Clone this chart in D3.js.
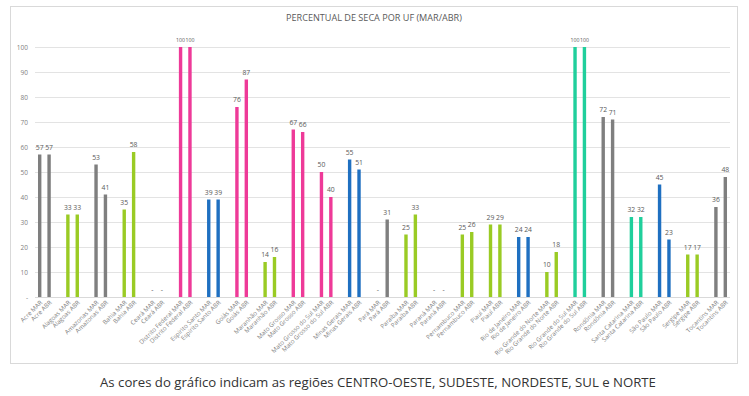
<!DOCTYPE html>
<html><head><meta charset="utf-8">
<script src="https://cdn.jsdelivr.net/npm/d3@7"></script>
<style>
body{margin:0;background:#fff;}
svg{display:block;}
</style></head>
<body>
<svg id="chart" width="749" height="396"></svg>
<script>
const states = ["Acre","Alagoas","Amazonas","Bahia","Ceará","Distrito Federal","Espirito Santo","Goiás","Maranhão","Mato Grosso","Mato Grosso do Sul","Minas Gerais","Pará","Paraíba","Paraná","Pernambuco","Piauí","Rio de Janeiro","Rio Grande do Norte","Rio Grande do Sul","Rondônia","Santa Catarina","São Paulo","Sergipe","Tocantins"];
const marValues = [57,33,53,35,0,100,39,76,14,67,50,55,0,25,0,25,29,24,10,100,72,32,45,17,36];
const abrValues = [57,33,41,58,0,100,39,87,16,66,40,51,31,33,0,26,29,24,18,100,71,32,23,17,48];
const regions = ["NORTE","NORDESTE","NORTE","NORDESTE","NORDESTE","CENTRO-OESTE","SUDESTE","CENTRO-OESTE","NORDESTE","CENTRO-OESTE","CENTRO-OESTE","SUDESTE","NORTE","NORDESTE","SUL","NORDESTE","NORDESTE","SUDESTE","NORDESTE","SUL","NORTE","SUL","SUDESTE","NORDESTE","NORTE"];
const regionNames = ["CENTRO-OESTE","SUDESTE","NORDESTE","SUL","NORTE"];
const regionColors = ["#ee3a98","#1f70c1","#9acb24","#20cf9c","#7f7f7f"];
const yTicks = [0,10,20,30,40,50,60,70,80,90,100];
const titleText = "PERCENTUAL DE SECA POR UF (MAR/ABR)";
const captionText = "As cores do gráfico indicam as regiões CENTRO-OESTE, SUDESTE, NORDESTE, SUL e NORTE";

const svg = d3.select("#chart");
const color = d3.scaleOrdinal().domain(regionNames).range(regionColors);

// build slots: MAR, ABR, gap per state (last gap omitted)
const slots = [];
states.forEach((s,i)=>{
  slots.push({key:s+"|MAR", label:s+" MAR", value:marValues[i], region:regions[i], bar:true});
  slots.push({key:s+"|ABR", label:s+" ABR", value:abrValues[i], region:regions[i], bar:true});
  if(i<states.length-1) slots.push({key:s+"|gap", label:"", bar:false});
});

const x = d3.scaleBand().domain(slots.map(d=>d.key)).range([35,730]).padding(0);
const y = d3.scaleLinear().domain([0,100]).range([297,47]);

// frame
svg.append("rect").attr("x",10.5).attr("y",6.5).attr("width",727).attr("height",357)
  .attr("fill","#fff").attr("stroke","#d9d9d9");

// gridlines
svg.append("g").selectAll("line").data(yTicks.filter(t=>t>0)).join("line")
  .attr("x1",35).attr("x2",730).attr("y1",d=>Math.round(y(d))+0.5).attr("y2",d=>Math.round(y(d))+0.5)
  .attr("stroke","#e3e3e3").attr("stroke-width",1);
svg.append("line").attr("x1",35).attr("x2",730).attr("y1",297.5).attr("y2",297.5)
  .attr("stroke","#d9d9d9");

// y axis labels
const yAxis = d3.axisLeft(y).tickValues(yTicks).tickSize(0).tickPadding(0)
  .tickFormat(d=>d===0?"-":d);
const gy = svg.append("g").attr("transform","translate(28,0)").call(yAxis);
gy.select(".domain").remove();
gy.selectAll("text").attr("font-family","'Open Sans',sans-serif").attr("font-size",6.5).attr("fill","#7f7f7f");

// title
svg.append("text").attr("x",374).attr("y",21).attr("text-anchor","middle")
  .attr("font-family","'Open Sans',sans-serif").attr("font-size",9.1).attr("fill","#595959")
  .text(titleText);

const barSlots = slots.filter(d=>d.bar);
const bw = 3.4;
// bars
svg.append("g").selectAll("rect").data(barSlots.filter(d=>d.value>0)).join("rect")
  .attr("x",d=>x(d.key)+x.bandwidth()/2-bw/2).attr("width",bw)
  .attr("y",d=>y(d.value)).attr("height",d=>y(0)-y(d.value))
  .attr("fill",d=>color(d.region));

// value labels
svg.append("g").selectAll("text").data(barSlots).join("text")
  .attr("x",d=>x(d.key)+x.bandwidth()/2).attr("y",d=>y(d.value)-5)
  .attr("text-anchor","middle").attr("font-family","'Open Sans',sans-serif")
  .attr("font-size",d=>d.value>=100?5.2:6.8).attr("fill","#595959")
  .text(d=>d.value===0?"-":d.value);

// x labels
svg.append("g").selectAll("text").data(barSlots).join("text")
  .attr("transform",d=>`translate(${x(d.key)+x.bandwidth()/2+3},${303}) rotate(-45)`)
  .attr("text-anchor","end").attr("font-family","'Open Sans',sans-serif")
  .attr("font-size",6.2).attr("fill","#7f7f7f")
  .text(d=>d.label);

// caption
svg.append("text").attr("x",378).attr("y",387).attr("text-anchor","middle")
  .attr("font-family","'Open Sans',sans-serif").attr("font-size",13.2).attr("fill","#333")
  .text(captionText);
</script>
</body></html>
